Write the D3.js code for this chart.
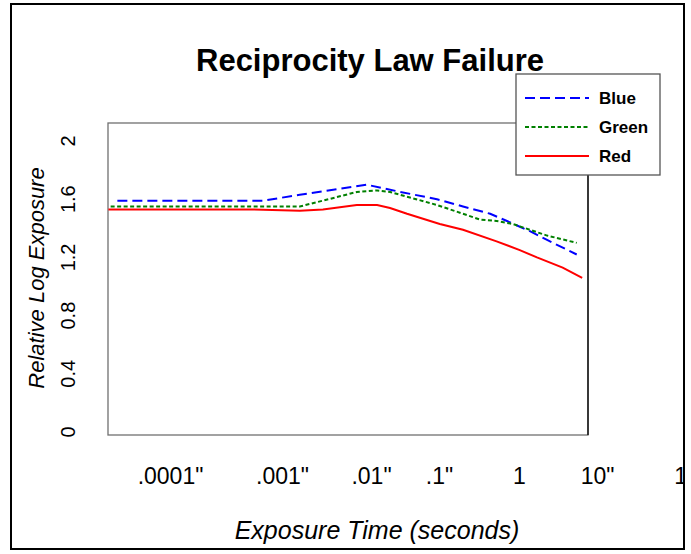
<!DOCTYPE html>
<html>
<head>
<meta charset="utf-8">
<script src="https://cdn.jsdelivr.net/npm/d3@7"></script>
<style>
  html, body { margin: 0; padding: 0; background: #fff; }
  svg { display: block; font-family: "Liberation Sans", Arial, Helvetica, sans-serif; }
</style>
</head>
<body>
<svg id="chart" width="691" height="554"></svg>
<script>
// ---- data (x = log10 of exposure time in seconds, y = relative log exposure) ----
const blueX  = [-4.47, -3.17, -2.80, -2.05, -1.57, -1.03, -0.70, -0.36, -0.15, 0.14, 0.36, 0.74];
const blueY  = [1.59, 1.59, 1.63, 1.70, 1.65, 1.60, 1.55, 1.50, 1.45, 1.38, 1.32, 1.22];
const greenX = [-4.53, -2.80, -2.54, -2.16, -1.91, -1.72, -1.03, -0.70, -0.49, -0.28, -0.08, 0.14, 0.36, 0.74];
const greenY = [1.55, 1.55, 1.59, 1.65, 1.66, 1.65, 1.56, 1.50, 1.46, 1.45, 1.43, 1.39, 1.35, 1.30];
const redX   = [-4.55, -3.27, -2.80, -2.54, -2.16, -1.91, -1.72, -1.47, -0.99, -0.70, -0.28, 0.01, 0.23, 0.56, 0.81];
const redY   = [1.53, 1.53, 1.52, 1.53, 1.56, 1.56, 1.54, 1.50, 1.43, 1.39, 1.31, 1.25, 1.20, 1.13, 1.06];

const seriesNames = ["Blue", "Green", "Red"];
const xTickValues = [-4, -3, -2, -1, 0, 1, 2];
const xTickLabels = [".0001\"", ".001\"", ".01\"", ".1\"", "1", "10\"", "100\""];
const yTickValues = [0, 0.4, 0.8, 1.2, 1.6, 2];
const yTickLabels = ["0", "0.4", "0.8", "1.2", "1.6", "2"];

const titleText = "Reciprocity Law Failure";
const xTitle = "Exposure Time (seconds)";
const yTitle = "Relative Log Exposure";

// ---- layout ----
const svg = d3.select("#chart");
const plot = { left: 108, top: 123, right: 588, bottom: 435 };
const frame = { left: 11, top: 4, right: 684, bottom: 549 };

// x axis of the original uses uneven spacing between decades
const x = d3.scaleLinear()
  .domain(xTickValues)
  .range([170, 282, 371, 439, 519, 597, 697]);
const y = d3.scaleLinear().domain([0, 2]).range([432, 141]);

const series = [
  { name: seriesNames[0], xs: blueX,  ys: blueY,  color: "#0000ff", dash: "10,5", width: 2 },
  { name: seriesNames[1], xs: greenX, ys: greenY, color: "#008000", dash: "4,2.5", width: 2 },
  { name: seriesNames[2], xs: redX,   ys: redY,   color: "#ff0000", dash: null,   width: 2 }
];

// clip for the area inside the outer frame
svg.append("defs").append("clipPath").attr("id", "frameClip")
  .append("rect")
  .attr("x", frame.left).attr("y", frame.top)
  .attr("width", frame.right - frame.left).attr("height", frame.bottom - frame.top);

// outer frame background
svg.append("rect")
  .attr("x", frame.left).attr("y", frame.top)
  .attr("width", frame.right - frame.left).attr("height", frame.bottom - frame.top)
  .attr("fill", "#fff");

// plot box
svg.append("rect")
  .attr("x", plot.left).attr("y", plot.top)
  .attr("width", plot.right - plot.left).attr("height", plot.bottom - plot.top)
  .attr("fill", "#fff").attr("stroke", "#707070").attr("stroke-width", 1.3);
svg.append("line")
  .attr("x1", plot.right).attr("x2", plot.right)
  .attr("y1", plot.top).attr("y2", plot.bottom)
  .attr("stroke", "#000").attr("stroke-width", 1.3);

// lines
const lineGen = d3.line().x(d => x(d[0])).y(d => y(d[1]));
series.forEach(s => {
  const pts = s.xs.map((v, i) => [v, s.ys[i]]);
  svg.append("path")
    .datum(pts)
    .attr("d", lineGen)
    .attr("fill", "none")
    .attr("stroke", s.color)
    .attr("stroke-width", s.width)
    .attr("stroke-dasharray", s.dash);
});

// x axis labels (no axis line / ticks), clipped by the outer frame like the original
const xAxis = d3.axisBottom(x)
  .tickValues(xTickValues)
  .tickFormat((d, i) => xTickLabels[i])
  .tickSize(0);
const gxWrap = svg.append("g").attr("clip-path", "url(#frameClip)");
const gx = gxWrap.append("g").attr("transform", "translate(0,468)").call(xAxis);
gx.select(".domain").remove();
gx.selectAll("text")
  .attr("y", 0).attr("dy", "0.71em")
  .attr("fill", "#000")
  .style("font-size", "23px")
  .style("font-family", "Liberation Sans, Arial, sans-serif");

// y axis labels (rotated)
svg.append("g").selectAll("text")
  .data(yTickValues)
  .join("text")
  .attr("transform", d => `translate(75,${y(d)}) rotate(-90)`)
  .attr("text-anchor", "middle")
  .style("font-size", "20px")
  .attr("fill", "#000")
  .text((d, i) => yTickLabels[i]);

// axis titles
svg.append("text")
  .attr("x", 377).attr("y", 539)
  .attr("text-anchor", "middle")
  .style("font-size", "25px").style("font-style", "italic")
  .text(xTitle);

svg.append("text")
  .attr("transform", `translate(44,${278}) rotate(-90)`)
  .attr("text-anchor", "middle")
  .style("font-size", "22px").style("font-style", "italic")
  .text(yTitle);

// title
svg.append("text")
  .attr("x", 370).attr("y", 71)
  .attr("text-anchor", "middle")
  .style("font-size", "31px").style("font-weight", "bold")
  .text(titleText);

// legend
const lg = svg.append("g");
lg.append("rect")
  .attr("x", 516).attr("y", 74).attr("width", 144).attr("height", 101)
  .attr("fill", "#fff").attr("stroke", "#555").attr("stroke-width", 1.3);
series.forEach((s, i) => {
  const ly = 98 + i * 29;
  lg.append("line")
    .attr("x1", 525).attr("x2", 589).attr("y1", ly).attr("y2", ly)
    .attr("stroke", s.color).attr("stroke-width", s.width)
    .attr("stroke-dasharray", s.dash);
  lg.append("text")
    .attr("x", 599).attr("y", ly).attr("dy", "0.36em")
    .style("font-size", "17px").style("font-weight", "bold")
    .text(s.name);
});

// outer frame border (drawn last, on top)
svg.append("rect")
  .attr("x", frame.left).attr("y", frame.top)
  .attr("width", frame.right - frame.left).attr("height", frame.bottom - frame.top)
  .attr("fill", "none").attr("stroke", "#000").attr("stroke-width", 2);
</script>
</body>
</html>
